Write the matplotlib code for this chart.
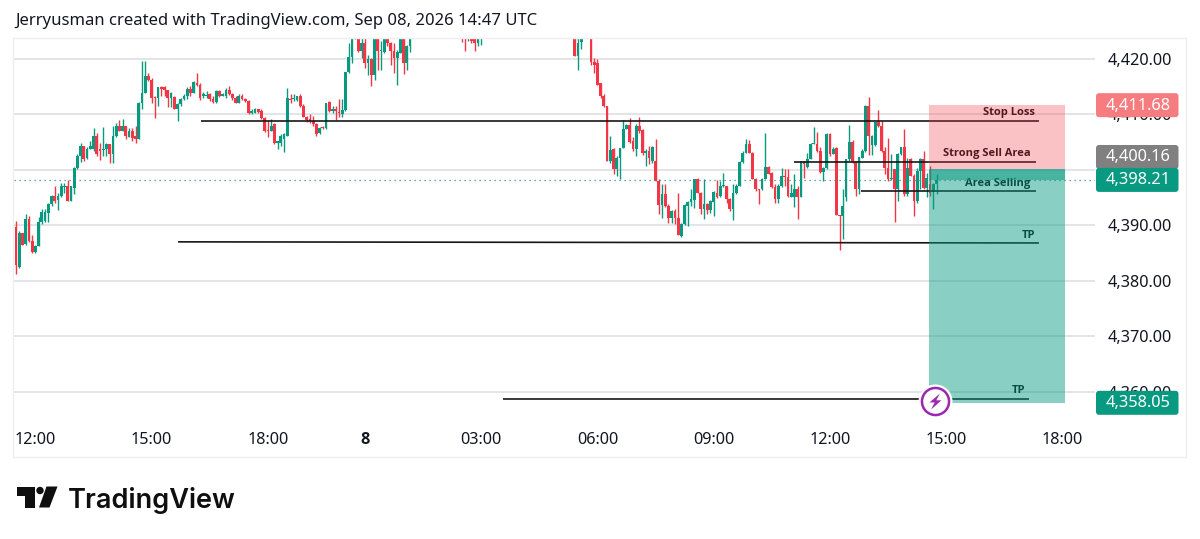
"""TradingView gold 5-minute chart with a short position drawn on it."""

import numpy as np
import matplotlib
matplotlib.use("Agg")
import matplotlib.pyplot as plt
from matplotlib.patches import FancyBboxPatch, Polygon, Circle, Rectangle
from matplotlib.path import Path
from matplotlib.ticker import FixedLocator, FixedFormatter

plt.rcParams['font.family'] = ['Noto Sans', 'DejaVu Sans']

nan = float("nan")

# --- CANDLES (nan = bar sits above the visible price range) ---
opens = [
    4389.8, 4382.6, 4388.6, 4386.6, 4391.1, 4387.2, 4385.3, 4386.3, 4390.6, 4390.8,
    4392.3, 4393.8, 4395.3, 4394.6, 4395.3, 4397.0, 4397.2, 4394.5, 4396.8, 4400.4,
    4402.5, 4404.3, 4402.2, 4403.8, 4403.7, 4406.2, 4403.7, 4403.6, 4403.7, 4404.6,
    4402.8, 4406.2, 4407.9, 4407.1, 4407.9, 4406.0, 4407.0, 4406.1, 4405.6, 4412.1,
    4413.9, 4417.0, 4416.2, 4413.1, 4413.0, 4415.0, 4415.0, 4414.4, 4413.0, 4413.1,
    4411.0, 4411.8, 4412.7, 4413.3, 4414.6, 4413.9, 4415.7, 4415.4, 4413.3, 4413.4,
    4413.6, 4412.8, 4412.3, 4414.2, 4413.4, 4413.3, 4414.5, 4413.6, 4413.0, 4412.1,
    4413.4, 4412.7, 4412.4, 4410.2, 4410.3, 4410.9, 4410.6, 4409.4, 4407.2, 4407.0,
    4408.2, 4404.8, 4404.9, 4405.5, 4406.2, 4412.8, 4412.7, 4412.6, 4413.4, 4411.6,
    4409.6, 4409.2, 4408.8, 4408.3, 4406.6, 4407.8, 4407.5, 4412.2, 4410.6, 4410.9,
    4410.4, 4410.0, 4410.8, 4417.6, 4420.4, 4424.5, 4424.6, 4421.4, 4422.9, 4419.3,
    4420.0, 4417.2, 4424.0, 4421.5, 4421.2, 4424.1, 4422.9, 4421.4, 4420.2, 4421.1,
    4424.0, 4419.3, 4422.3,
] + [nan] * 15 + [
    4425.0, 4426.0, 4424.8, 4425.0, 4425.0, 4422.8, 4424.5,
] + [nan] * 28 + [
    4425.0, 4420.5, 4423.0, nan, nan, 4424.0,
    4419.4, 4419.2, 4415.6, 4413.4, 4411.6, 4401.6, 4403.7, 4400.2, 4402.2, 4403.9,
    4407.4, 4408.1, 4405.2, 4403.7, 4408.0, 4407.2, 4403.0, 4403.4, 4401.6, 4401.6,
    4398.1, 4393.7, 4395.6, 4393.5, 4391.4, 4392.6, 4391.4, 4388.1, 4390.2, 4393.5,
    4394.2, 4394.6, 4398.3, 4395.9, 4392.9, 4393.8, 4392.8, 4394.2, 4395.9, 4395.3,
    4397.1, 4397.1, 4394.8, 4393.0, 4395.8, 4397.2, 4401.4, 4403.1, 4404.6, 4403.1,
    4398.4, 4396.6, 4396.5, 4398.4, 4400.5, 4399.5, 4397.0, 4394.8, 4397.1, 4398.9,
    4398.7, 4395.1, 4395.1, 4396.6, 4395.1, 4401.6, 4400.5, 4402.0, 4404.7, 4404.7,
    4403.5, 4399.6, 4400.4, 4406.5, 4402.8, 4403.9, 4391.8, 4391.7, 4395.1, 4401.9,
    4405.1, 4401.4, 4396.6, 4402.2, 4403.4, 4411.6, 4404.5, 4404.5, 4408.6, 4408.0,
    4403.4, 4400.4, 4398.3, 4400.1, 4396.6, 4402.8, 4404.1, 4395.6, 4402.0, 4399.0,
    4394.5, 4399.8, 4402.0, 4396.8, 4397.4, 4396.0, 4397.4,
]

highs = [
    4390.8, 4389.0, 4388.7, 4392.1, 4391.7, 4388.2, 4386.5, 4391.6, 4393.0, 4392.9,
    4394.0, 4395.5, 4397.1, 4395.9, 4397.6, 4397.7, 4398.2, 4397.1, 4400.6, 4402.8,
    4404.9, 4404.3, 4404.2, 4405.2, 4407.6, 4406.7, 4404.9, 4407.8, 4404.8, 4404.6,
    4408.0, 4408.5, 4409.0, 4409.2, 4407.9, 4407.6, 4407.6, 4407.9, 4412.2, 4419.6,
    4419.6, 4417.5, 4416.6, 4413.3, 4415.0, 4415.1, 4415.1, 4414.5, 4414.0, 4413.3,
    4412.0, 4413.0, 4413.6, 4415.0, 4415.1, 4416.0, 4417.4, 4415.7, 4414.0, 4414.3,
    4413.9, 4413.3, 4414.4, 4414.5, 4413.9, 4414.7, 4415.1, 4413.9, 4413.3, 4413.6,
    4413.6, 4413.0, 4412.6, 4410.9, 4411.1, 4411.0, 4410.9, 4409.6, 4409.0, 4409.1,
    4408.5, 4405.2, 4406.4, 4406.6, 4414.7, 4413.6, 4413.6, 4413.4, 4413.6, 4411.8,
    4409.8, 4410.0, 4409.7, 4408.5, 4407.7, 4408.0, 4412.1, 4412.4, 4411.5, 4411.6,
    4412.8, 4412.7, 4417.7, 4422.9, 4424.7, 4425.0, 4425.2, 4423.8, 4423.8, 4420.8,
    4420.2, 4424.7, 4424.7, 4423.2, 4424.7, 4424.7, 4423.0, 4422.9, 4421.7, 4424.5,
    4424.7, 4422.6, 4424.7,
] + [nan] * 15 + [
    4425.5, 4427.0, 4426.5, 4425.5, 4426.0, 4425.0, 4425.5,
] + [nan] * 28 + [
    4426.0, 4424.0, 4424.5, nan, nan, 4425.0,
    4420.2, 4420.0, 4415.7, 4413.6, 4411.6, 4406.1, 4404.0, 4402.5, 4404.0, 4409.0,
    4408.2, 4409.4, 4406.0, 4408.2, 4409.6, 4407.4, 4403.7, 4404.3, 4404.3, 4405.5,
    4398.3, 4397.4, 4397.4, 4393.8, 4392.8, 4392.9, 4395.9, 4390.5, 4393.8, 4394.4,
    4396.5, 4398.4, 4398.6, 4396.0, 4398.3, 4394.0, 4394.6, 4396.2, 4398.2, 4398.0,
    4399.4, 4397.2, 4395.0, 4397.4, 4397.4, 4401.6, 4403.4, 4405.6, 4405.4, 4403.2,
    4398.6, 4396.6, 4398.6, 4406.6, 4400.8, 4399.6, 4397.4, 4397.4, 4400.3, 4400.1,
    4400.1, 4397.4, 4399.3, 4397.1, 4401.7, 4401.7, 4403.0, 4404.8, 4407.8, 4406.8,
    4404.2, 4400.5, 4406.6, 4406.6, 4404.1, 4404.1, 4391.8, 4396.6, 4402.0, 4408.1,
    4405.4, 4401.6, 4402.4, 4403.7, 4411.7, 4413.2, 4406.3, 4408.7, 4410.8, 4408.9,
    4404.2, 4405.7, 4402.9, 4400.2, 4403.0, 4404.2, 4407.4, 4402.2, 4402.2, 4399.2,
    4400.4, 4402.2, 4403.5, 4399.5, 4400.7, 4397.7, 4399.2,
]

lows = [
    4381.2, 4382.3, 4386.4, 4386.4, 4387.0, 4385.1, 4385.1, 4386.3, 4390.2, 4390.6,
    4390.6, 4393.5, 4394.1, 4392.8, 4395.2, 4395.9, 4394.4, 4394.4, 4395.6, 4400.1,
    4401.4, 4401.6, 4402.0, 4403.7, 4403.4, 4402.6, 4401.8, 4402.6, 4402.5, 4401.3,
    4401.2, 4406.0, 4407.0, 4407.0, 4405.5, 4406.0, 4405.2, 4404.8, 4405.5, 4411.0,
    4413.9, 4416.0, 4412.1, 4409.4, 4411.6, 4413.4, 4413.3, 4411.4, 4411.4, 4410.9,
    4408.9, 4411.6, 4412.6, 4412.7, 4413.3, 4413.8, 4415.2, 4412.6, 4413.0, 4413.0,
    4412.5, 4412.0, 4412.1, 4413.2, 4413.3, 4413.0, 4413.5, 4412.6, 4412.0, 4412.1,
    4412.6, 4412.2, 4410.0, 4410.0, 4410.2, 4410.3, 4409.1, 4406.8, 4406.0, 4407.0,
    4404.6, 4403.7, 4404.3, 4403.2, 4406.2, 4412.0, 4412.4, 4412.5, 4411.4, 4409.5,
    4408.6, 4408.4, 4407.9, 4406.2, 4406.5, 4407.3, 4407.4, 4410.4, 4410.3, 4409.0,
    4409.6, 4409.6, 4410.7, 4417.5, 4419.3, 4423.6, 4421.3, 4420.2, 4418.4, 4417.2,
    4415.2, 4416.2, 4418.0, 4418.1, 4421.0, 4422.3, 4419.0, 4417.4, 4415.4, 4421.0,
    4417.3, 4418.1, 4421.2,
] + [nan] * 15 + [
    4423.0, 4421.5, 4423.2, 4422.9, 4421.4, 4422.3, 4422.6,
] + [nan] * 28 + [
    4420.5, 4418.0, 4421.8, nan, nan, 4419.0,
    4417.5, 4415.4, 4413.0, 4411.4, 4401.6, 4401.3, 4399.2, 4398.9, 4398.3, 4403.9,
    4407.3, 4404.9, 4403.4, 4402.5, 4406.7, 4402.7, 4400.7, 4401.0, 4401.3, 4398.0,
    4392.0, 4391.4, 4393.4, 4390.5, 4390.4, 4390.2, 4388.2, 4388.0, 4390.0, 4389.9,
    4393.5, 4393.2, 4395.8, 4392.0, 4391.1, 4392.0, 4392.3, 4391.7, 4395.0, 4395.2,
    4397.0, 4394.0, 4392.6, 4391.0, 4395.6, 4397.1, 4401.3, 4403.0, 4403.0, 4398.3,
    4396.2, 4393.8, 4396.4, 4398.3, 4399.2, 4396.8, 4394.1, 4394.1, 4397.0, 4397.1,
    4395.1, 4395.1, 4393.3, 4391.2, 4395.1, 4398.6, 4400.4, 4401.9, 4404.7, 4403.3,
    4399.5, 4398.0, 4400.2, 4402.6, 4402.8, 4391.8, 4385.5, 4387.5, 4394.4, 4401.7,
    4401.3, 4395.4, 4395.7, 4402.1, 4403.2, 4402.7, 4402.7, 4404.4, 4407.8, 4403.2,
    4399.2, 4398.1, 4398.2, 4390.6, 4394.5, 4402.7, 4395.4, 4395.4, 4398.9, 4391.7,
    4394.1, 4396.5, 4396.6, 4395.1, 4395.3, 4392.9, 4395.6,
]

closes = [
    4382.9, 4388.7, 4386.5, 4391.1, 4387.2, 4385.3, 4386.3, 4390.7, 4392.4, 4392.4,
    4393.8, 4395.3, 4394.4, 4395.3, 4397.1, 4397.2, 4394.5, 4397.1, 4400.4, 4402.6,
    4404.3, 4402.0, 4403.8, 4404.3, 4406.2, 4402.8, 4403.4, 4403.8, 4404.6, 4402.8,
    4406.2, 4407.9, 4407.1, 4407.9, 4406.1, 4407.0, 4405.8, 4405.6, 4412.1, 4413.9,
    4416.9, 4416.2, 4413.0, 4413.0, 4414.9, 4414.6, 4414.5, 4413.0, 4413.8, 4411.0,
    4411.8, 4412.7, 4413.4, 4414.6, 4413.9, 4415.8, 4415.4, 4413.0, 4413.6, 4413.5,
    4412.7, 4412.2, 4414.2, 4413.3, 4413.6, 4414.5, 4413.6, 4413.0, 4412.1, 4413.4,
    4412.7, 4412.4, 4410.2, 4410.6, 4410.9, 4410.5, 4409.4, 4407.0, 4407.0, 4408.0,
    4404.8, 4405.2, 4406.1, 4406.4, 4413.0, 4412.6, 4413.0, 4413.3, 4411.6, 4409.6,
    4409.0, 4408.8, 4408.2, 4406.4, 4407.6, 4407.6, 4412.0, 4410.6, 4411.0, 4410.6,
    4410.2, 4410.8, 4417.6, 4420.4, 4423.8, 4424.0, 4421.4, 4422.9, 4419.3, 4420.0,
    4417.2, 4424.0, 4421.4, 4421.6, 4423.8, 4422.8, 4421.4, 4420.2, 4421.2, 4424.1,
    4419.3, 4422.4, 4423.8,
] + [nan] * 15 + [
    4424.5, 4424.6, 4426.0, 4423.2, 4422.9, 4424.5, 4425.0,
] + [nan] * 28 + [
    4420.5, 4422.8, 4424.2, nan, nan, 4419.4,
    4419.0, 4415.4, 4413.3, 4411.5, 4401.6, 4403.6, 4400.2, 4402.2, 4403.9, 4407.4,
    4408.1, 4405.0, 4403.7, 4408.0, 4407.0, 4403.0, 4403.5, 4402.2, 4404.2, 4398.0,
    4393.7, 4395.6, 4393.5, 4391.4, 4392.6, 4391.4, 4388.2, 4390.2, 4393.6, 4394.2,
    4394.7, 4398.3, 4395.9, 4392.9, 4393.8, 4392.8, 4394.4, 4396.0, 4395.2, 4397.1,
    4397.2, 4394.7, 4393.0, 4395.8, 4397.2, 4401.4, 4403.1, 4404.6, 4403.1, 4398.4,
    4396.5, 4396.4, 4398.4, 4400.6, 4399.3, 4397.0, 4394.8, 4397.1, 4399.0, 4398.7,
    4395.3, 4395.9, 4396.6, 4395.1, 4401.6, 4401.0, 4402.0, 4404.7, 4404.8, 4403.5,
    4399.6, 4400.4, 4406.5, 4402.8, 4403.8, 4391.8, 4391.7, 4393.5, 4401.9, 4405.1,
    4401.4, 4396.6, 4402.3, 4403.5, 4411.6, 4406.2, 4406.2, 4408.6, 4408.0, 4403.4,
    4400.4, 4398.3, 4398.5, 4396.6, 4402.9, 4404.1, 4395.6, 4400.4, 4399.0, 4394.5,
    4399.8, 4402.0, 4396.8, 4398.6, 4395.8, 4397.5, 4398.21,
]

# --- AXES LABELS ---
price_ticks = [4420, 4410, 4400, 4390, 4380, 4370, 4360]
time_ticks = [6, 42, 78, 108, 144, 180, 216, 252, 288, 324]
time_labels = ["12:00", "15:00", "18:00", "8", "03:00", "06:00",
               "09:00", "12:00", "15:00", "18:00"]

# --- POSITION AND DRAWINGS ---
stop_price = 4411.68
entry_price = 4400.16
last_price = 4398.21
target_price = 4358.05
position_start, position_end = 282.7, 324.8

line_starts = [57.3, 240.9, 261.6, 50.2, 150.8]
line_ends = [316.7, 315.8, 315.8, 316.7, 313.6]
line_prices_start = [4408.9, 4401.5, 4396.2, 4387.05, 4358.8]
line_prices_end = [4408.9, 4401.5, 4396.2, 4386.85, 4358.8]

note_texts = ["Stop Loss", "Strong Sell Area", "Area Selling", "TP", "TP"]
note_x = [315.5, 314.2, 314.2, 315.5, 312.4]
note_prices = [4410.3, 4402.9, 4397.5, 4388.15, 4360.2]

GREEN = '#089981'
RED = '#F23645'
GRID = '#DEDFE3'
TEXT = '#131722'
BOLD_FONT = ['Open Sans', 'DejaVu Sans']


def px_box(fig, x0, y0, x1, y1, color, rounding=3):
    """Rounded box in picture pixels, y counted from the top."""
    box = FancyBboxPatch((x0, 539 - y1), x1 - x0, y1 - y0,
                         boxstyle=f"round,pad=0,rounding_size={rounding}",
                         transform=None, facecolor=color, edgecolor='none',
                         zorder=20)
    fig.add_artist(box)


def price_tag(fig, ax, price, color, label, y_center=None):
    """Coloured price label on the right scale."""
    if y_center is None:
        y_center = 539 - ax.transData.transform((0, price))[1]
    px_box(fig, 1096, y_center - 12, 1178.5, y_center + 12, color)
    fig.text(1138.5 / 1200, 1 - (y_center + 0.5) / 539, label, color='white',
             fontsize=11.8, ha='center', va='center', zorder=21)


def draw_logo(fig):
    """TradingView wordmark under the chart."""
    black = '#0F0F0F'
    shapes = [
        [(16.5, 486.5), (35, 486.5), (35, 507.5), (25, 507.5), (25, 496), (16.5, 496)],
        [(46.5, 486.5), (57.5, 486.5), (49.5, 507.5), (39, 507.5)],
    ]
    for pts in shapes:
        fig.add_artist(Polygon([(x, 539 - y) for x, y in pts], closed=True,
                               transform=None, facecolor=black, edgecolor='none'))
    fig.add_artist(Circle((40, 539 - 490.5), 3.7, transform=None,
                          facecolor=black, edgecolor='none'))
    fig.text(67.5 / 1200, 1 - 507.5 / 539, "TradingView", color=black,
             fontsize=19.6, fontfamily=['Inter', 'DejaVu Sans'],
             fontweight='semibold', ha='left', va='baseline')


def main():
    fig = plt.figure(figsize=(12, 5.39), dpi=100, facecolor='white')

    # light frame around the whole chart
    fig.add_artist(Rectangle((13, 539 - 457), 1173, 419, transform=None,
                             facecolor='none', edgecolor='#ECEEF2', linewidth=1))

    ax = fig.add_axes([14 / 1200, 1 - 424 / 539, 1081 / 1200, 386 / 539])
    ax.set_xlim(-0.62, 334.06)
    ax.set_ylim(4354.23, 4423.78)

    o = np.array(opens)
    h = np.array(highs)
    l = np.array(lows)
    c = np.array(closes)
    x = np.arange(len(c))
    seen = ~np.isnan(c)
    up = c >= o

    # grid and scales
    ax.yaxis.set_major_locator(FixedLocator(price_ticks))
    ax.yaxis.set_major_formatter(FixedFormatter([f"{p:,.2f}" for p in price_ticks]))
    ax.yaxis.tick_right()
    ax.xaxis.set_major_locator(FixedLocator(time_ticks))
    ax.xaxis.set_major_formatter(FixedFormatter(time_labels))
    ax.tick_params(axis='both', length=0, labelsize=11.7, labelcolor=TEXT)
    ax.tick_params(axis='y', pad=9)
    ax.tick_params(axis='x', pad=6)
    ax.grid(axis='y', color=GRID, linewidth=1.2)
    ax.set_axisbelow(True)
    for side in ax.spines.values():
        side.set_visible(False)

    # candles
    colors = np.where(up, GREEN, RED)
    ax.vlines(x[seen], l[seen], h[seen], colors=colors[seen], linewidth=1.0, zorder=2)
    ax.bar(x[seen], np.maximum(np.abs(c - o)[seen], 0.15), width=0.85,
           bottom=np.minimum(o, c)[seen], color=colors[seen], linewidth=0, zorder=2.2)

    # last price dotted line
    ax.axhline(last_price, color='#3C8F82', linewidth=0.9, linestyle=(0, (1, 3)), zorder=2.4)

    # hand drawn lines and their notes
    for x0, x1, y0, y1 in zip(line_starts, line_ends, line_prices_start, line_prices_end):
        ax.plot([x0, x1], [y0, y1], color='#161616', linewidth=1.2, zorder=3,
                solid_capstyle='butt')
    for label, xt, yt in zip(note_texts, note_x, note_prices):
        ax.text(xt, yt, label, color='#0D0D0D', fontsize=8, fontweight='bold',
                fontfamily=BOLD_FONT, ha='right', va='center', zorder=3.2)

    # short position box, drawn over the candles
    width = position_end - position_start
    ax.add_patch(Rectangle((position_start, entry_price), width, stop_price - entry_price,
                           facecolor=RED, edgecolor='none', alpha=0.30, zorder=4))
    ax.add_patch(Rectangle((position_start, target_price), width, entry_price - target_price,
                           facecolor=GREEN, edgecolor='none', alpha=0.47, zorder=4))
    ax.add_patch(Rectangle((position_start, last_price), width, entry_price - last_price,
                           facecolor=GREEN, edgecolor='none', alpha=0.50, zorder=4.1))

    # lightning badge at the last bar
    badge_x, badge_y = len(c) - 1.4, 4358.3
    ax.plot([badge_x], [badge_y], marker='o', ms=23.5, mfc='white', mec='white', zorder=6, clip_on=False)
    ax.plot([badge_x], [badge_y], marker='o', ms=19.5, mfc='white', mec='#9C27B0', mew=1.8, zorder=7, clip_on=False)
    bolt = Path([(0.55, 1), (-0.75, -0.12), (-0.1, -0.12), (-0.55, -1),
                 (0.75, 0.15), (0.1, 0.15), (0.55, 1), (0.55, 1)], closed=True)
    ax.plot([badge_x], [badge_y], marker=bolt, ms=11.5, mfc='#9C27B0', mec='none', zorder=8, clip_on=False)

    # price tags on the right scale
    fig.canvas.draw()
    for tick in ax.get_xticklabels():
        if tick.get_text() == "8":
            tick.set_fontweight('bold')
            tick.set_fontfamily(BOLD_FONT)
    price_tag(fig, ax, stop_price, '#F77C80', f"{stop_price:,.2f}")
    price_tag(fig, ax, entry_price, '#808080', f"{entry_price:,.2f}", y_center=157)
    price_tag(fig, ax, last_price, GREEN, f"{last_price:,.2f}")
    price_tag(fig, ax, target_price, GREEN, f"{target_price:,.2f}")

    fig.text(15 / 1200, 1 - 21 / 539,
             "Jerryusman created with TradingView.com, Sep 08, 2026 14:47 UTC",
             color=TEXT, fontsize=12, ha='left', va='center')

    draw_logo(fig)

    fig.savefig("out.png", dpi=100, facecolor='white')


if __name__ == '__main__':
    main()
